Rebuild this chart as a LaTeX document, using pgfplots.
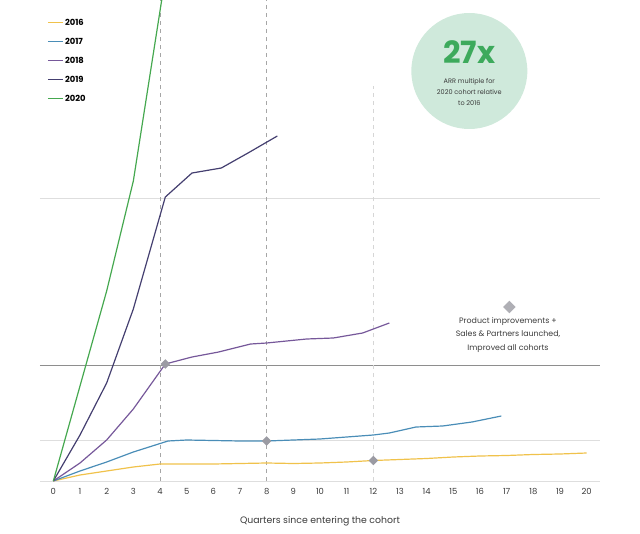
\documentclass[border=0pt]{standalone}
\usepackage{fontspec}
\setmainfont{Poppins}
\usepackage{pgfplots}
\pgfplotsset{compat=1.18}
\definecolor{cA}{HTML}{F0C24B}
\definecolor{cB}{HTML}{4A8DB7}
\definecolor{cC}{HTML}{76589A}
\definecolor{cD}{HTML}{443F70}
\definecolor{cE}{HTML}{45A84F}
\definecolor{circ}{HTML}{CFE9DB}
\definecolor{big}{HTML}{3DAA5C}
\definecolor{mk}{HTML}{9B9BA3}
\definecolor{txt}{HTML}{3A3A3A}
\definecolor{gdark}{HTML}{8E8E8E}
\begin{document}
\begin{tikzpicture}[x=1pt,y=1pt]
\path[use as bounding box] (-30,-39) rectangle (450,360.75);
\begin{axis}[
  at={(0,0)}, anchor=south west,
  scale only axis, width=420pt, height=360.75pt,
  xmin=-0.5, xmax=20.5, ymin=0, ymax=481,
  axis line style={draw=none},
  major tick style={draw=none},
  xtick={0,...,20},
  ytick={0,41,283}, yticklabels={},
  ymajorgrids,
  grid style={draw=black!13, line width=0.7pt},
  /pgf/number format/assume math mode=true,
  xticklabel style={font=\fontsize{6.3}{7}\selectfont, text=txt, yshift=-2pt},
  xlabel={Quarters since entering the cohort},
  xlabel style={font=\fontsize{7}{8}\selectfont, text=txt, at={(axis description cs:0.5,0)}, anchor=center, yshift=-30pt},
  legend style={draw=none, fill=none, at={(axis description cs:0.0125,0.965)}, anchor=north west,
    font=\bfseries\fontsize{6.3}{7}\selectfont, row sep=6.25pt, inner sep=0pt,
    nodes={text height=5pt, text depth=1pt, inner sep=1pt}},
  legend cell align=left,
  legend image code/.code={\draw[#1, line width=1.1pt] (0pt,0pt) -- (11.25pt,0pt);},
  every axis plot/.append style={line width=0.9pt},
]
\draw[draw=gdark, line width=0.7pt] (axis cs:-0.5,116) -- (axis cs:20.5,116);
\draw[draw=black!35, line width=0.6pt, dash pattern=on 3pt off 3pt] (axis cs:4,0) -- (axis cs:4,481);
\draw[draw=black!35, line width=0.6pt, dash pattern=on 3pt off 3pt] (axis cs:8,0) -- (axis cs:8,481);
\draw[draw=black!16, line width=0.6pt, dash pattern=on 3pt off 3pt] (axis cs:12,0) -- (axis cs:12,395);

\addplot[cA] coordinates {(0,0)(1,6)(2,10)(3,14)(4,17)(5,17)(6,17)(7,17.5)(8,18)(9,17.5)(10,18)(11,19)(12,20.5)(13,21.5)(14,22.5)(15,24)(16,25)(17,25.5)(18,26.5)(19,27)(20,28)};
\addlegendentry{2016}
\addplot[cB] coordinates {(0,0)(1,10)(2,19)(3,29)(4.3,40)(5,41)(6,40.5)(7,40)(8,40)(9,41)(10,42)(11,44)(12,46)(12.6,48)(13.6,54)(14.6,55)(15.7,59)(16.8,65)};
\addlegendentry{2017}
\addplot[cC] coordinates {(0,0)(1,18)(2,41)(3,72)(4.2,117)(5.2,124)(6.2,129)(7.4,137)(8,138)(9.5,142)(10.5,143)(11.6,148)(12.6,158)};
\addlegendentry{2018}
\addplot[cD] coordinates {(0,0)(1,46)(2,98)(3,172)(4.2,284)(5.2,308)(6.3,313)(7.3,328)(8.4,345)};
\addlegendentry{2019}
\addplot[cE] coordinates {(0,0)(1,95)(2,190)(3,300)(4,470)(5,640)};
\addlegendentry{2020}

\addplot[only marks, mark=square*, mark size=2.1pt, mark options={rotate=45, fill=mk, draw=mk}, forget plot] coordinates {(4.2,117)(8,40)(12,20.5)};
\addplot[only marks, mark=square*, mark size=2.9pt, mark options={rotate=45, fill=mk!80, draw=mk!80}, forget plot] coordinates {(17.1,174)};

\fill[circ] (axis cs:15.6,410) circle[radius=43.5pt];
\node[font=\bfseries\fontsize{23}{23}\selectfont, text=big] at (axis cs:15.6,429) {27x};
\node[font=\fontsize{4.9}{8.25}\selectfont, text=txt, align=center] at (axis cs:15.6,389) {ARR multiple for\\2020 cohort relative\\to 2016};
\node[font=\fontsize{5.9}{10.2}\selectfont, text=txt, align=center] at (axis cs:17.05,146) {Product improvements +\\Sales \& Partners launched,\\Improved all cohorts};
\node[rotate=90, font=\fontsize{7}{8}\selectfont, text=txt] at (axis description cs:0,0.345) [yshift=5.25pt] {ARR};
\end{axis}
\end{tikzpicture}
\end{document}
